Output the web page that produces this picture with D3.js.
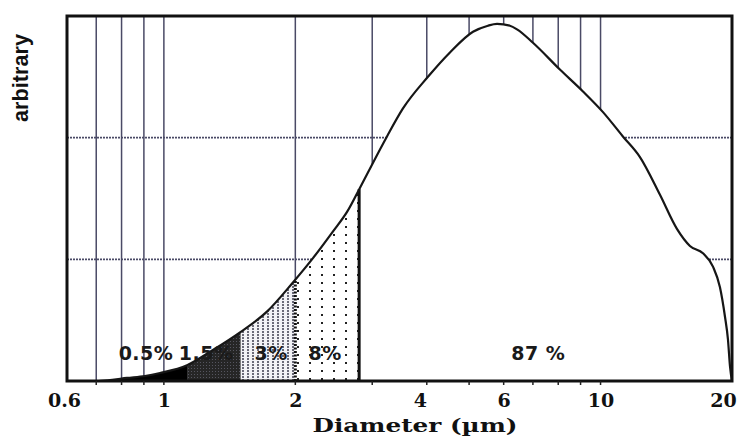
<!DOCTYPE html>
<html>
<head>
<meta charset="utf-8">
<script src="https://cdn.jsdelivr.net/npm/d3@7"></script>
<style>
body { margin: 0; background: #fff; }
</style>
</head>
<body>
<script>
var w = 741;
var h = 437;
var margin = {top: 16, right: 9, bottom: 56, left: 67};

// size distribution (diameter in µm, arbitrary units)
var diam = [0.6, 0.7, 0.753, 0.823, 0.905, 0.98, 1.13, 1.295, 1.494, 1.722, 1.975, 2.195, 2.44, 2.627,
            2.842, 3.243, 3.528, 4.025, 4.52, 5.104, 5.522, 5.793, 6.2, 6.438, 7.002, 8.07, 9.115,
            10.13, 11.25, 12.31, 13.68, 14.96, 16.02, 17.16, 18.09, 18.77, 19.27, 19.58, 19.79, 20];
var freq = [0, 0, 0.008, 0.025, 0.041, 0.066, 0.13, 0.255, 0.40, 0.57, 0.81, 1.01, 1.23, 1.39,
            1.62, 2.01, 2.24, 2.50, 2.70, 2.87, 2.92, 2.935, 2.92, 2.89, 2.78, 2.56, 2.38,
            2.21, 2.01, 1.84, 1.53, 1.25, 1.11, 1.05, 0.94, 0.77, 0.53, 0.34, 0.12, 0];

// fraction bands
var cuts = [0.6, 1.13, 1.5, 2, 2.8, 20];
var bandLabels = ["0.5%", "1.5%", "3%", "8%", "87 %"];
var bandLabelAt = [0.91, 1.25, 1.76, 2.34, 7.2];
var bandFill = ["#000", "url(#dark)", "url(#stripes)", "url(#dots)", "none"];

var tickVals = [0.6, 1, 2, 4, 6, 10, 20];
var gridX = [0.7, 0.8, 0.9, 1, 2, 3, 4, 5, 6, 7, 8, 9, 10];
var gridY = [1, 2];

var data = diam.map(function(d, i) { return {d: d, f: freq[i]}; });

var svg = d3.select("body")
    .append("svg")
    .attr("width", w)
    .attr("height", h)
    .style("font-family", "DejaVu Sans, sans-serif");

var iw = w - margin.left - margin.right;
var ih = h - margin.top - margin.bottom;

var x = d3.scaleLog().domain([0.6, 20]).range([0, iw]);
var y = d3.scaleLinear().domain([0, 3]).range([ih, 0]);

var defs = svg.append("defs");

// dense dark texture
var pd = defs.append("pattern").attr("id", "dark").attr("patternUnits", "userSpaceOnUse")
    .attr("width", 3).attr("height", 3);
pd.append("rect").attr("width", 3).attr("height", 3).attr("fill", "#262626");
pd.append("rect").attr("x", 1).attr("y", 1).attr("width", 1).attr("height", 1).attr("fill", "#55555f");

// vertical dotted stripes
var ps = defs.append("pattern").attr("id", "stripes").attr("patternUnits", "userSpaceOnUse")
    .attr("width", 5).attr("height", 3);
ps.append("rect").attr("width", 5).attr("height", 3).attr("fill", "#f2f2f6");
ps.append("rect").attr("width", 2).attr("height", 2).attr("fill", "#6a6a78");

// sparse dots
var pt = defs.append("pattern").attr("id", "dots").attr("patternUnits", "userSpaceOnUse")
    .attr("width", 12).attr("height", 8);
pt.append("rect").attr("width", 12).attr("height", 8).attr("fill", "#fff");
pt.append("rect").attr("x", 2).attr("y", 2).attr("width", 2).attr("height", 2).attr("fill", "#222");

var g = svg.append("g").attr("transform", "translate(" + margin.left + "," + margin.top + ")");

// grid
g.selectAll(".gx").data(gridX).enter().append("line")
    .attr("x1", function(d) { return x(d); })
    .attr("x2", function(d) { return x(d); })
    .attr("y1", 0).attr("y2", ih)
    .attr("stroke", "#4a4a66").attr("stroke-width", 1.5);

g.selectAll(".gy").data(gridY).enter().append("line")
    .attr("x1", 0).attr("x2", iw)
    .attr("y1", function(d) { return y(d); })
    .attr("y2", function(d) { return y(d); })
    .attr("stroke", "#4a4a66").attr("stroke-width", 1.6)
    .attr("stroke-dasharray", "2,1");

var area = d3.area()
    .x(function(d) { return x(d.d); })
    .y0(ih)
    .y1(function(d) { return y(d.f); })
    .curve(d3.curveMonotoneX);

var line = d3.line()
    .x(function(d) { return x(d.d); })
    .y(function(d) { return y(d.f); })
    .curve(d3.curveMonotoneX);

// white under the curve hides the grid
g.append("path").datum(data).attr("d", area).attr("fill", "#fff");

// shaded bands, clipped from the same area
cuts.slice(0, -1).forEach(function(c, i) {
    defs.append("clipPath").attr("id", "band" + i)
        .append("rect")
        .attr("x", x(c)).attr("y", -margin.top)
        .attr("width", x(cuts[i + 1]) - x(c)).attr("height", h);
    if (bandFill[i] !== "none") {
        g.append("path").datum(data)
            .attr("clip-path", "url(#band" + i + ")")
            .attr("d", area)
            .attr("fill", bandFill[i]);
    }
});

// band edges: dotted at 2 µm, solid at 2.8 µm
function curveAt(v) {
    var i = d3.bisector(function(d) { return d.d; }).left(data, v);
    var a = data[i - 1], b = data[i];
    var t = (Math.log(v) - Math.log(a.d)) / (Math.log(b.d) - Math.log(a.d));
    return a.f + t * (b.f - a.f);
}
g.append("line")
    .attr("x1", x(cuts[3])).attr("x2", x(cuts[3]))
    .attr("y1", ih).attr("y2", y(curveAt(cuts[3])))
    .attr("stroke", "#111").attr("stroke-width", 3).attr("stroke-dasharray", "2,1.5");
g.append("line")
    .attr("x1", x(cuts[4])).attr("x2", x(cuts[4]))
    .attr("y1", ih).attr("y2", y(curveAt(cuts[4])))
    .attr("stroke", "#111").attr("stroke-width", 3);

g.append("path").datum(data)
    .attr("d", line)
    .attr("fill", "none")
    .attr("stroke", "#161616")
    .attr("stroke-width", 2.2);

// band percentages
g.selectAll(".pct").data(bandLabels).enter().append("text")
    .attr("x", function(d, i) { return x(bandLabelAt[i]); })
    .attr("y", ih - 21)
    .attr("text-anchor", "middle")
    .attr("font-weight", "bold")
    .attr("font-size", 19)
    .attr("letter-spacing", 0.5)
    .attr("fill", "#1a1a1a")
    .text(function(d) { return d; });

// frame
g.append("rect")
    .attr("width", iw).attr("height", ih)
    .attr("fill", "none").attr("stroke", "#111").attr("stroke-width", 3);

// small ticks under the axis
g.selectAll(".tk").data(gridX).enter().append("line")
    .attr("x1", function(d) { return x(d); })
    .attr("x2", function(d) { return x(d); })
    .attr("y1", ih).attr("y2", ih + 4)
    .attr("stroke", "#222").attr("stroke-width", 1.5);

var xAxis = d3.axisBottom(x)
    .tickValues(tickVals)
    .tickSize(0)
    .tickPadding(13)
    .tickFormat(function(d) { return String(d); });

g.append("g")
    .attr("transform", "translate(0," + ih + ")")
    .call(xAxis)
    .call(function(s) { s.select(".domain").remove(); })
    .selectAll("text")
    .attr("font-family", "DejaVu Serif, serif")
    .attr("font-weight", "bold")
    .attr("font-size", 19)
    .attr("fill", "#111")
    .attr("dx", function(d) { return d === 20 ? -9 : (d === 4 ? -7 : (d === 0.6 ? -3 : 0)); });

svg.append("text")
    .attr("x", 415)
    .attr("y", 432)
    .attr("text-anchor", "middle")
    .attr("font-family", "DejaVu Serif, serif")
    .attr("font-weight", "bold")
    .attr("font-size", 18)
    .attr("fill", "#111")
    .attr("textLength", 205)
    .attr("lengthAdjust", "spacingAndGlyphs")
    .text("Diameter (µm)");

svg.append("text")
    .attr("transform", "translate(28,78) rotate(-90)")
    .attr("text-anchor", "middle")
    .attr("font-family", "Liberation Sans, Arial, sans-serif")
    .attr("font-weight", "bold")
    .attr("font-size", 22)
    .attr("fill", "#111")
    .attr("textLength", 88)
    .attr("lengthAdjust", "spacingAndGlyphs")
    .text("arbitrary");
</script>
</body>
</html>
